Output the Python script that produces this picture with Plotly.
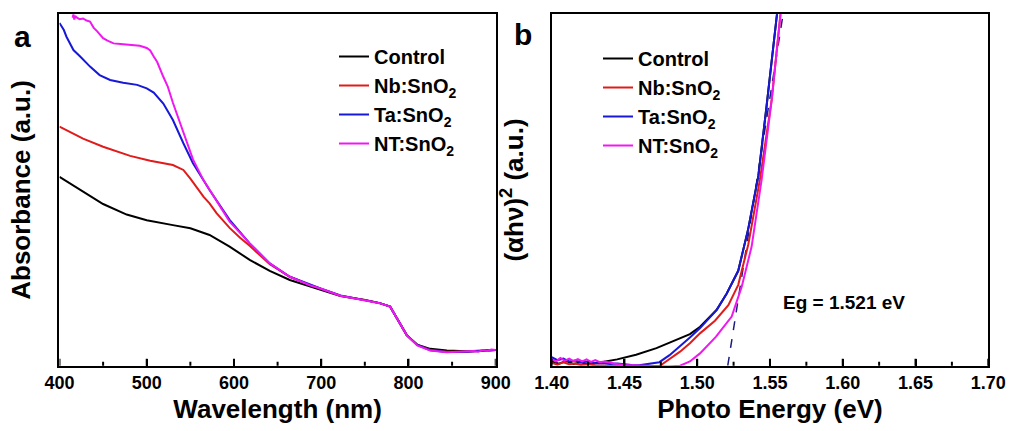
import plotly.graph_objects as go

# ---------------- Panel a: absorbance spectra ----------------
ctrl_wl = [400, 427, 450, 477, 500, 530, 550, 572, 595, 618, 641, 664, 687, 700, 722,
           750, 767, 779, 788, 798, 810, 825, 844, 867, 900]
ctrl_abs = [0.537, 0.495, 0.460, 0.430, 0.414, 0.400, 0.391, 0.372, 0.339, 0.301, 0.270,
            0.244, 0.225, 0.216, 0.198, 0.187, 0.178, 0.168, 0.130, 0.087, 0.060, 0.048,
            0.043, 0.041, 0.045]

nb_wl = [400, 427, 450, 481, 504, 530, 542, 550, 565, 572, 580, 595, 607, 618, 641, 664,
         687, 700, 722, 750, 767, 779, 788, 798, 810, 825, 844, 867, 900]
nb_abs = [0.680, 0.646, 0.623, 0.597, 0.583, 0.571, 0.557, 0.532, 0.481, 0.462, 0.434,
          0.392, 0.364, 0.341, 0.289, 0.253, 0.230, 0.218, 0.199, 0.187, 0.178, 0.168,
          0.130, 0.087, 0.059, 0.045, 0.040, 0.040, 0.045]

ta_wl = [400, 405, 408, 416, 424, 435, 446, 458, 473, 489, 500, 508, 519, 530, 542, 553,
         572, 595, 618, 641, 664, 687, 700, 722, 750, 767, 779, 788, 798, 810, 825, 844,
         867, 900]
ta_abs = [0.975, 0.955, 0.936, 0.898, 0.879, 0.851, 0.827, 0.813, 0.805, 0.799, 0.789,
          0.777, 0.746, 0.699, 0.633, 0.576, 0.500, 0.415, 0.348, 0.291, 0.253, 0.230,
          0.219, 0.200, 0.187, 0.178, 0.168, 0.130, 0.087, 0.059, 0.044, 0.039, 0.040,
          0.045]

nt_wl = [415, 416, 417, 418, 420, 423, 427, 431, 435, 439, 443, 450, 455, 462, 470, 477,
         485, 492, 500, 504, 508, 512, 519, 524, 530, 542, 553, 565, 580, 595, 607, 618,
         641, 664, 687, 700, 722, 750, 767, 779, 788, 798, 810, 825, 844, 867, 875, 880,
         885, 890, 895, 900]
nt_abs = [0.990, 1.000, 0.985, 0.995, 0.990, 0.986, 0.988, 0.982, 0.979, 0.962, 0.952,
          0.932, 0.925, 0.917, 0.915, 0.914, 0.913, 0.910, 0.904, 0.897, 0.880, 0.864,
          0.822, 0.795, 0.748, 0.661, 0.587, 0.528, 0.467, 0.410, 0.378, 0.348, 0.291,
          0.253, 0.229, 0.219, 0.199, 0.187, 0.178, 0.168, 0.130, 0.087, 0.058, 0.043,
          0.038, 0.040, 0.042, 0.040, 0.044, 0.042, 0.046, 0.045]

wl_ticks = [400, 500, 600, 700, 800, 900]
wl_tick_labels = ["400", "500", "600", "700", "800", "900"]

# ---------------- Panel b: Tauc plot ----------------
ctrl_ev = [1.400, 1.405, 1.410, 1.415, 1.420, 1.425, 1.430, 1.436, 1.445, 1.458, 1.472,
           1.486, 1.495, 1.502, 1.5134, 1.5202, 1.5282, 1.5351, 1.5420, 1.5477, 1.5541,
           1.557]
ctrl_tauc = [0.012, 0.006, 0.013, 0.005, 0.010, 0.004, 0.008, 0.011, 0.018, 0.031, 0.050,
             0.073, 0.090, 0.111, 0.159, 0.205, 0.270, 0.390, 0.540, 0.740, 1.000, 1.080]

ta_ev = [1.400, 1.404, 1.408, 1.412, 1.416, 1.420, 1.425, 1.430, 1.435, 1.440, 1.445,
         1.450, 1.455, 1.460, 1.466, 1.474, 1.481, 1.488, 1.495, 1.502, 1.5134, 1.5202,
         1.5282, 1.5351, 1.5420, 1.5477, 1.5541, 1.557]
ta_tauc = [0.024, 0.016, 0.020, 0.012, 0.015, 0.010, 0.012, 0.007, 0.008, 0.005, 0.006,
           0.003, 0.002, 0.001, 0.004, 0.010, 0.030, 0.054, 0.080, 0.107, 0.159, 0.205,
           0.270, 0.390, 0.540, 0.740, 1.000, 1.080]

nb_ev = [1.400, 1.404, 1.408, 1.412, 1.416, 1.420, 1.425, 1.430, 1.440, 1.450, 1.460,
         1.4744, 1.481, 1.4882, 1.495, 1.5019, 1.5122, 1.5214, 1.5282, 1.5351, 1.5431,
         1.5512, 1.5572, 1.559]
nb_tauc = [0.008, 0.003, 0.010, 0.004, 0.006, 0.002, 0.004, 0.001, 0.000, -0.002, -0.003,
           0.000, 0.018, 0.040, 0.064, 0.092, 0.128, 0.172, 0.230, 0.345, 0.530, 0.757,
           1.000, 1.070]

nt_ev = [1.400, 1.403, 1.406, 1.409, 1.412, 1.415, 1.418, 1.421, 1.424, 1.427, 1.430,
         1.433, 1.436, 1.440, 1.445, 1.450, 1.460, 1.470, 1.480, 1.4882, 1.495, 1.5019,
         1.5128, 1.5237, 1.5306, 1.5374, 1.5443, 1.5512, 1.5572, 1.559]
nt_tauc = [0.018, 0.012, 0.022, 0.014, 0.020, 0.013, 0.019, 0.012, 0.018, 0.011, 0.016,
           0.010, 0.012, 0.008, 0.005, 0.002, 0.000, -0.002, -0.002, 0.000, 0.012, 0.035,
           0.082, 0.140, 0.225, 0.339, 0.530, 0.757, 1.000, 1.070]

ev_ticks = [1.40, 1.45, 1.50, 1.55, 1.60, 1.65, 1.70]
ev_tick_labels = ["1.40", "1.45", "1.50", "1.55", "1.60", "1.65", "1.70"]

# linear extrapolation of the absorption edge
fit_ev = [1.521, 1.559]
fit_tauc = [0.0, 1.0]
eg_label = "Eg = 1.521 eV"

names = ["Control", "Nb:SnO<sub>2</sub>", "Ta:SnO<sub>2</sub>", "NT:SnO<sub>2</sub>"]
colors = ["#000000", "#E01B1B", "#1818D8", "#F018F0"]

FONT = "Liberation Sans, Arial, sans-serif"


def b(s):
    return "<b>" + s + "</b>"


fig = go.Figure()

panel_a = [(ctrl_wl, ctrl_abs), (nb_wl, nb_abs), (ta_wl, ta_abs), (nt_wl, nt_abs)]
panel_b = [(ctrl_ev, ctrl_tauc), (nb_ev, nb_tauc), (ta_ev, ta_tauc), (nt_ev, nt_tauc)]

for i, ((x, y), name, c) in enumerate(zip(panel_a, names, colors)):
    fig.add_trace(go.Scatter(x=x, y=y, mode="lines", name=b(name),
                             line=dict(color=c, width=2),
                             xaxis="x", yaxis="y", legend="legend",
                             legendgroup="a%d" % i))

fig.add_trace(go.Scatter(x=fit_ev, y=fit_tauc, mode="lines", showlegend=False,
                         line=dict(color="#1C1C80", width=1.5, dash="dash"),
                         xaxis="x2", yaxis="y2"))

for i, ((x, y), name, c) in enumerate(zip(panel_b, names, colors)):
    fig.add_trace(go.Scatter(x=x, y=y, mode="lines", name=b(name),
                             line=dict(color=c, width=2),
                             xaxis="x2", yaxis="y2", legend="legend2",
                             legendgroup="b%d" % i))

frame = dict(showline=True, linecolor="#000000", linewidth=2, mirror=True)
tickfont = dict(family=FONT, size=18, color="#000000")
titlefont = dict(family=FONT, size=26, color="#000000")

ydom = [0.1515, 0.967]
PLOT_H = 431 * (ydom[1] - ydom[0])
MAJOR_LEN = 7 / PLOT_H
MINOR_LEN = 4 / PLOT_H

# inward tick marks on the bottom axes, placed at the tick values via the axis scale
tick_shapes = []
for xref, yref, ticks in (("x", "y domain", wl_ticks), ("x2", "y2 domain", ev_ticks)):
    minors = [(t0 + t1) / 2 for t0, t1 in zip(ticks[:-1], ticks[1:])]
    for t in ticks:
        tick_shapes.append(dict(type="line", xref=xref, yref=yref, x0=t, x1=t,
                                y0=0, y1=MAJOR_LEN, layer="above",
                                line=dict(color="#000000", width=2)))
    for t in minors:
        tick_shapes.append(dict(type="line", xref=xref, yref=yref, x0=t, x1=t,
                                y0=0, y1=MINOR_LEN, layer="above",
                                line=dict(color="#000000", width=2)))

fig.update_layout(
    width=1010, height=431,
    margin=dict(l=0, r=0, t=0, b=0, autoexpand=False),
    paper_bgcolor="white", plot_bgcolor="white",
    font=dict(family=FONT, color="#000000"),
    xaxis=dict(domain=[0.0589, 0.4908], range=[400, 900], anchor="y",
               tickvals=wl_ticks, ticktext=[b(t) for t in wl_tick_labels],
               ticks="inside", ticklen=7, tickwidth=2, tickcolor="#000000",
               tickfont=tickfont,
               title=dict(text=b("Wavelength (nm)"), font=titlefont, standoff=7),
               **frame),
    yaxis=dict(domain=ydom, range=[0, 1], anchor="x", showticklabels=False,
               title=dict(text=b("Absorbance (a.u.)"), font=titlefont, standoff=19),
               **frame),
    xaxis2=dict(domain=[0.5462, 0.9785], range=[1.40, 1.70], anchor="y2",
                tickvals=ev_ticks, ticktext=[b(t) for t in ev_tick_labels],
                ticks="inside", ticklen=7, tickwidth=2, tickcolor="#000000",
                tickfont=tickfont,
                title=dict(text=b("Photo Energy (eV)"), font=titlefont, standoff=7),
                **frame),
    yaxis2=dict(domain=ydom, range=[0, 1], anchor="x2", showticklabels=False,
                title=dict(text=b("(αhν)<sup>2</sup> (a.u.)"), font=titlefont,
                           standoff=19),
                **frame),
    legend=dict(x=334 / 1010, y=1 - 37 / 431, xanchor="left", yanchor="top",
                bgcolor="rgba(0,0,0,0)", borderwidth=0, tracegroupgap=0,
                traceorder="grouped",
                font=dict(family=FONT, size=20, color="#000000")),
    legend2=dict(x=598 / 1010, y=1 - 39 / 431, xanchor="left", yanchor="top",
                 bgcolor="rgba(0,0,0,0)", borderwidth=0, tracegroupgap=0,
                 traceorder="grouped",
                 font=dict(family=FONT, size=20, color="#000000")),
    shapes=tick_shapes,
    annotations=[
        dict(text=b("a"), x=22 / 1010, y=1 - 36 / 431, xref="paper", yref="paper",
             showarrow=False, xanchor="center", yanchor="middle",
             font=dict(family=FONT, size=30, color="#000000")),
        dict(text=b("b"), x=523 / 1010, y=1 - 34 / 431, xref="paper", yref="paper",
             showarrow=False, xanchor="center", yanchor="middle",
             font=dict(family=FONT, size=30, color="#000000")),
        dict(text=b(eg_label), x=1.6009, y=0.179, xref="x2", yref="y2",
             showarrow=False, xanchor="center", yanchor="middle",
             font=dict(family=FONT, size=19, color="#000000")),
    ],
)

fig.write_html("out.html")
